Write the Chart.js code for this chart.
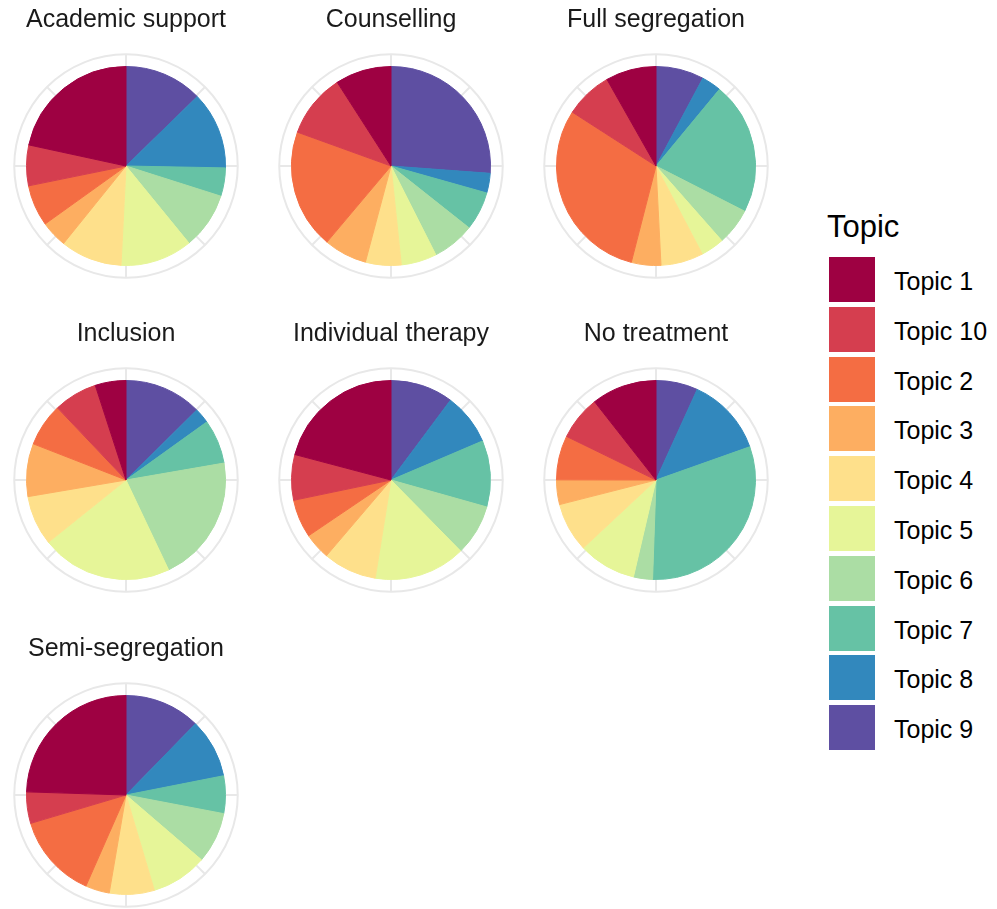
<!DOCTYPE html>
<html>
<head>
<meta charset="utf-8">
<script src="https://cdn.jsdelivr.net/npm/chart.js@4.4.1/dist/chart.umd.min.js"></script>
<style>
  body {
    margin: 0;
    background: #fff;
    width: 997px;
    height: 909px;
    overflow: hidden;
    position: relative;
    font-family: "Liberation Sans", Arial, sans-serif;
  }
  canvas.facet { position: absolute; }
  .legend-title {
    position: absolute;
    left: 827px;
    top: 211px;
    font-size: 31px;
    line-height: 31px;
    color: #000;
  }
  .legend-key {
    position: absolute;
    left: 829px;
    width: 46px;
    height: 45px;
  }
  .legend-label {
    position: absolute;
    left: 894px;
    height: 45px;
    line-height: 45px;
    font-size: 25px;
    color: #000;
    white-space: nowrap;
  }
</style>
</head>
<body>
<div id="legend"></div>

<script>
// legend order (alphabetical, as in the source)
const topics = ['Topic 1', 'Topic 10', 'Topic 2', 'Topic 3', 'Topic 4',
                'Topic 5', 'Topic 6', 'Topic 7', 'Topic 8', 'Topic 9'];
const topicColors = ['#9E0142', '#D53E4F', '#F46D43', '#FDAE61', '#FEE08B',
                     '#E6F598', '#ABDDA4', '#66C2A5', '#3288BD', '#5E4FA2'];

const facetNames = ['Academic support', 'Counselling', 'Full segregation',
                    'Inclusion', 'Individual therapy', 'No treatment',
                    'Semi-segregation'];

// shares in % per facet, same order as topics
const academicSupport   = [21.6, 6.6, 6.7, 4.3, 10.0, 11.7, 9.2, 4.6, 12.6, 12.7];
const counselling       = [9.1, 10.4, 19.4, 7.0, 5.8, 5.8, 6.9, 6.3, 3.2, 26.2];
const fullSegregation   = [8.2, 7.7, 30.1, 4.8, 6.9, 3.8, 6.0, 21.5, 3.2, 7.8];
const inclusion         = [5.0, 7.1, 7.0, 8.6, 8.1, 21.3, 20.7, 7.2, 2.5, 12.6];
const individualTherapy = [20.9, 7.4, 6.2, 4.3, 8.7, 14.9, 8.3, 10.8, 8.4, 10.2];
const noTreatment       = [10.6, 7.2, 7.2, 4.0, 8.0, 9.4, 3.1, 31.0, 12.8, 6.8];
const semiSegregation   = [24.5, 5.1, 13.8, 3.9, 7.3, 9.1, 8.3, 6.1, 9.6, 12.3];

const facetValues = [academicSupport, counselling, fullSegregation, inclusion,
                     individualTherapy, noTreatment, semiSegregation];

// grey ring + short spokes like ggplot's coord_polar panel grid
const polarGrid = {
    id: 'polarGrid',
    beforeDatasetsDraw(chart) {
        const arc = chart.getDatasetMeta(0).data[0];
        if (!arc) return;
        const { x, y, outerRadius } = arc;
        const R = outerRadius * 1.123;
        const ctx = chart.ctx;
        ctx.save();
        ctx.strokeStyle = '#e8e8e8';
        ctx.lineWidth = 2;
        ctx.beginPath();
        ctx.arc(x, y, R, 0, Math.PI * 2);
        ctx.stroke();
        for (let k = 0; k < 8; k++) {
            const a = k * Math.PI / 4;
            ctx.beginPath();
            ctx.moveTo(x + outerRadius * Math.sin(a), y - outerRadius * Math.cos(a));
            ctx.lineTo(x + R * Math.sin(a), y - R * Math.cos(a));
            ctx.stroke();
        }
        ctx.restore();
    }
};

function createFacet(i) {
    const col = i % 3;
    const row = Math.floor(i / 3);
    const canvas = document.createElement('canvas');
    canvas.className = 'facet';
    canvas.width = 252;
    canvas.height = 280;
    canvas.style.left = (col * 265) + 'px';
    canvas.style.top = [0, 314, 629][row] + 'px';
    document.body.appendChild(canvas);

    // slices run clockwise from 12 o'clock: Topic 9 first, Topic 1 last
    const labels = [...topics].reverse();
    const values = [...facetValues[i]].reverse();
    const colors = [...topicColors].reverse();

    new Chart(canvas, {
        type: 'pie',
        data: {
            labels: labels,
            datasets: [{
                data: values,
                backgroundColor: colors,
                borderColor: colors,
                borderWidth: 1
            }]
        },
        options: {
            responsive: false,
            animation: false,
            layout: {
                padding: { left: 26, right: 26, top: 0, bottom: 14 }
            },
            plugins: {
                legend: { display: false },
                tooltip: { enabled: false },
                title: {
                    display: true,
                    text: facetNames[i],
                    color: '#1a1a1a',
                    font: { family: '"Liberation Sans", Arial, sans-serif', size: 25, weight: 'normal' },
                    padding: { top: 5.5, bottom: 30.5 }
                }
            }
        },
        plugins: [polarGrid]
    });
}

facetNames.forEach((_, i) => createFacet(i));

// legend
const legend = document.getElementById('legend');
const title = document.createElement('div');
title.className = 'legend-title';
title.textContent = 'Topic';
legend.appendChild(title);
topics.forEach((t, i) => {
    const top = 257 + i * 49.8;
    const key = document.createElement('div');
    key.className = 'legend-key';
    key.style.top = top + 'px';
    key.style.background = topicColors[i];
    legend.appendChild(key);
    const label = document.createElement('div');
    label.className = 'legend-label';
    label.style.top = (top + 2) + 'px';
    label.textContent = t;
    legend.appendChild(label);
});
</script>
</body>
</html>
